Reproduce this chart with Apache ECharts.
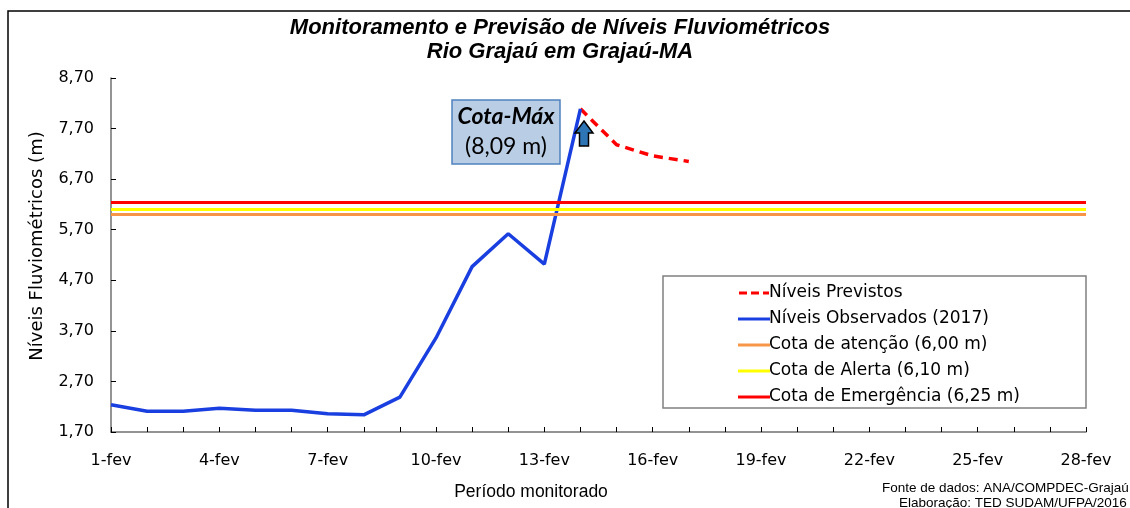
<!DOCTYPE html>
<html>
<head>
<meta charset="utf-8">
<script src="https://cdn.jsdelivr.net/npm/echarts@6/dist/echarts.min.js"></script>
<style>html,body{margin:0;padding:0;background:#fff}#c{width:1130px;height:508px}</style>
</head>
<body>
<div id="c"></div>
<script>
const categories = ['1-fev','2-fev','3-fev','4-fev','5-fev','6-fev','7-fev','8-fev','9-fev','10-fev','11-fev','12-fev','13-fev','14-fev','15-fev','16-fev','17-fev','18-fev','19-fev','20-fev','21-fev','22-fev','23-fev','24-fev','25-fev','26-fev','27-fev','28-fev'];
const observed = [2.24, 2.11, 2.11, 2.17, 2.13, 2.13, 2.06, 2.04, 2.39, 3.56, 4.97, 5.62, 5.02, 8.09];
const forecast = [null, null, null, null, null, null, null, null, null, null, null, null, null, 8.09, 7.38, 7.16, 7.05];
const yTicks = [1.7, 2.7, 3.7, 4.7, 5.7, 6.7, 7.7, 8.7];
const cotaAtencao = 6.00;
const cotaAlerta = 6.10;
const cotaEmergencia = 6.25;

const chart = echarts.init(document.getElementById('c'));
const FONT = 'Liberation Sans, Arial, sans-serif';
const DV = 'DejaVu Sans, sans-serif';
const LINE_ICON = 'path://M0,0H32V3H0Z';
const DASH_ICON = 'path://M0,0H8V3H0Z M12,0H20V3H12Z M24,0H30V3H24Z';

function hline(name, value, color) {
  return {
    name: name, type: 'line', data: [], symbol: 'none',
    lineStyle: { color: color, width: 3 }, itemStyle: { color: color },
    markLine: {
      silent: true, symbol: 'none', label: { show: false },
      lineStyle: { color: color, width: 3, type: 'solid' },
      data: [{ yAxis: value }]
    }
  };
}

chart.setOption({
  animation: false,
  backgroundColor: '#fff',
  title: {
    text: 'Monitoramento e Previsão de Níveis Fluviométricos\nRio Grajaú em Grajaú-MA',
    left: 555, top: 11, textAlign: 'center',
    textStyle: { fontFamily: FONT, fontSize: 22, fontWeight: 'bold', fontStyle: 'italic', color: '#000', lineHeight: 24 }
  },
  grid: { left: 111, right: 44, top: 78, bottom: 76, containLabel: false },
  legend: {
    orient: 'vertical', left: 733, top: 278,
    itemWidth: 32, itemHeight: 3, itemGap: 6,
    data: [
      { name: 'Níveis Previstos', icon: DASH_ICON },
      { name: 'Níveis Observados (2017)', icon: LINE_ICON },
      { name: 'Cota de atenção (6,00 m)', icon: LINE_ICON },
      { name: 'Cota de Alerta (6,10 m)', icon: LINE_ICON },
      { name: 'Cota de Emergência (6,25 m)', icon: LINE_ICON }
    ],
    textStyle: { fontFamily: DV, fontSize: 17, color: '#000', lineHeight: 20, padding: [0, 0, 0, -6] }
  },
  xAxis: {
    type: 'category', data: categories, boundaryGap: false,
    axisLine: { lineStyle: { color: '#707070', width: 1.5 } },
    axisTick: { show: true, inside: true, interval: 0, length: 5, lineStyle: { color: '#000' } },
    axisLabel: { interval: 2, margin: 21, fontFamily: DV, fontSize: 16, color: '#000' },
    splitLine: { show: false }
  },
  yAxis: {
    type: 'value', min: 1.7, max: 8.7,
    axisLine: { show: true, lineStyle: { color: '#707070', width: 1.5 } },
    axisTick: { show: true, inside: true, length: 5, customValues: yTicks, lineStyle: { color: '#000' } },
    axisLabel: { customValues: yTicks, margin: 17, fontFamily: DV, fontSize: 16, color: '#000',
      formatter: v => v.toFixed(2).replace('.', ',') },
    splitLine: { show: false }
  },
  series: [
    hline('Cota de atenção (6,00 m)', cotaAtencao, '#f79646'),
    hline('Cota de Alerta (6,10 m)', cotaAlerta, '#ffff00'),
    hline('Cota de Emergência (6,25 m)', cotaEmergencia, '#ff0000'),
    {
      name: 'Níveis Previstos', type: 'line', data: forecast, symbol: 'none', z: 3,
      lineStyle: { color: '#ff0000', width: 3.5, type: [9, 6] }, itemStyle: { color: '#ff0000' }
    },
    {
      name: 'Níveis Observados (2017)', type: 'line', data: observed, symbol: 'none', z: 4,
      lineStyle: { color: '#1a3fe0', width: 3.5 }, itemStyle: { color: '#1a3fe0' }
    }
  ],
  graphic: [
    { type: 'rect', shape: { x: 8, y: 11, width: 1200, height: 600 }, style: { fill: null, stroke: '#000', lineWidth: 1.5 }, silent: true, z: -10 },
    { type: 'rect', shape: { x: 663, y: 276, width: 423, height: 132 }, style: { fill: '#fff', stroke: '#808080', lineWidth: 1.5 }, silent: true, z: 0 },
    { type: 'rect', shape: { x: 452, y: 100, width: 108, height: 64 }, style: { fill: '#b9cde5', stroke: '#4f81bd', lineWidth: 1.5 }, z: 10 },
    { type: 'text', x: 506, y: 117, style: { text: 'Cota-Máx', font: 'bold italic 23px Lato, sans-serif', fill: '#000', textAlign: 'center', textVerticalAlign: 'middle' }, z: 11 },
    { type: 'text', x: 506, y: 147, style: { text: '(8,09 m)', font: '23px Lato, sans-serif', fill: '#000', textAlign: 'center', textVerticalAlign: 'middle' }, z: 11 },
    { type: 'polygon', shape: { points: [[584, 121], [593, 133], [588.5, 133], [588.5, 146], [579.5, 146], [579.5, 133], [575, 133]] }, style: { fill: '#2e75b6', stroke: '#000', lineWidth: 1.5 }, z: 11 },
    { type: 'text', x: 37, y: 246, rotation: Math.PI / 2, style: { text: 'Níveis Fluviométricos (m)', font: '18px DejaVu Sans, sans-serif', fill: '#000', textAlign: 'center', textVerticalAlign: 'middle' } },
    { type: 'text', x: 531, y: 492, style: { text: 'Período monitorado', font: '17.5px Liberation Sans, Arial, sans-serif', fill: '#000', textAlign: 'center', textVerticalAlign: 'middle' } },
    { type: 'text', x: 882, y: 488, style: { text: 'Fonte de dados: ANA/COMPDEC-Grajaú', font: '13.5px Liberation Sans, Arial, sans-serif', fill: '#000', textAlign: 'left', textVerticalAlign: 'middle' } },
    { type: 'text', x: 899, y: 503, style: { text: 'Elaboração: TED SUDAM/UFPA/2016', font: '13.5px Liberation Sans, Arial, sans-serif', fill: '#000', textAlign: 'left', textVerticalAlign: 'middle' } }
  ]
});
</script>
</body>
</html>
